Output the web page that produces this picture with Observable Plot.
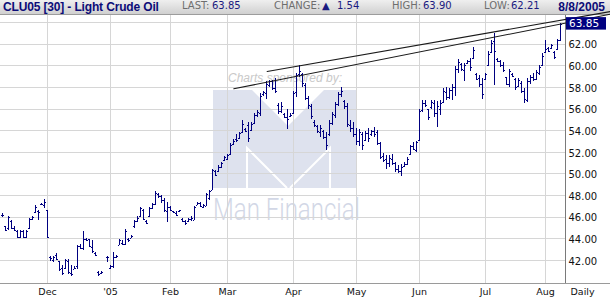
<!DOCTYPE html>
<html><head><meta charset="utf-8">
<script src="https://cdn.jsdelivr.net/npm/d3@7"></script>
<script src="https://cdn.jsdelivr.net/npm/@observablehq/plot@0.6"></script>
<style>
body{margin:0;background:#fff;}
#wrap{position:relative;width:610px;height:300px;overflow:hidden;background:#fff;}
#hdr{position:absolute;left:0;top:0;width:610px;height:15px;box-sizing:border-box;background:linear-gradient(#efefef,#d0d0d0);border-bottom:1px solid #9c9c9c;z-index:1;}
#hdr span{position:absolute;top:0;line-height:15px;white-space:nowrap;}
#hdr .t{font:bold 12px "Liberation Sans",Arial,sans-serif;letter-spacing:-0.15px;color:#0c0c78;}
#hdr .l{font:10px "DejaVu Sans",sans-serif;color:#6e6e6e;}
#hdr .v{font:10px "DejaVu Sans",sans-serif;color:#1a1a80;}
#hdr .d{font:bold 12px "Liberation Sans",Arial,sans-serif;color:#0c0c78;}
#wm{position:absolute;left:0;top:0;z-index:2;}
#chart{position:absolute;left:0;top:0;z-index:3;}
</style>
</head><body>
<div id="wrap">
  <div id="hdr"></div>
  <svg id="wm" width="610" height="300">
    <text x="228" y="82" font-family="Liberation Sans, Arial, sans-serif" font-style="italic" font-size="12" fill="#c9c9c9">Charts sponsored by:</text>
    <path d="M213,90 L252,90 L288,126 L324,90 L357,90 L357,188 L213,188 Z" fill="#dee2ee"/>
    <polyline points="247,188 247,148 287,188" fill="none" stroke="#fff" stroke-width="2"/>
    <polyline points="330,188 330,148 290,188" fill="none" stroke="#fff" stroke-width="2"/>
    <text x="213" y="220" font-family="Roboto, Liberation Sans, sans-serif" font-weight="300" font-size="32" textLength="147" lengthAdjust="spacingAndGlyphs" fill="#d2d7e6">Man Financial</text>
  </svg>
  <div id="chart"></div>
</div>
<script>
// ---- header values ----
const title = "CLU05 [30] - Light Crude Oil";
const lastPrice = 63.85, change = 1.54, dayHigh = 63.90, dayLow = 62.21;
const dateLabel = "8/8/2005";

// ---- x axis (trading-day slots) ----
const monthSlots  = [16, 37, 57, 76, 98, 119, 140, 162, 182];
const monthLabels = ["Dec", "'05", "Feb", "Mar", "Apr", "May", "Jun", "Jul", "Aug"];
const periodLabel = "Daily";

// ---- y axis ----
const gridPrices = [42, 44, 46, 48, 50, 52, 54, 56, 58, 60, 62, 64];
const priceLabels = [42, 44, 46, 48, 50, 52, 54, 56, 58, 60, 62];

// ---- daily OHLC, slot 1 .. 187 (null = no trading bar) ----
const firstSlot = 1;
const high = [
46.3,45.15,46.1,45.7,45.1,44.8,44.8,44.8,44.8,45.9,
46.05,47.05,46.6,47.3,47.6,46.65,42.4,42.4,42.6,41.95,
41.5,42.1,42.1,41.5,41.4,43.4,43.45,44.7,44.0,43.9,
43.8,42.7,41.0,41.0,null,42.4,41.5,42.7,42.45,43.9,
43.8,44.9,44.0,44.3,45.7,46.05,46.9,46.7,45.7,46.9,
47.3,48.35,48.2,48.0,47.7,47.4,46.96,46.53,46.53,46.65,
45.91,45.72,45.91,46.03,46.96,47.36,47.36,47.21,48.19,48.5,
50.45,50.35,50.76,51.06,51.59,51.8,52.8,53.2,53.6,53.85,
54.9,54.2,54.8,54.8,55.55,55.9,57.4,57.6,58.5,58.65,
58.6,58.8,56.5,56.6,55.6,56.0,55.6,57.6,59.3,60.0,
59.3,58.4,57.2,56.4,54.9,54.5,54.5,54.0,53.8,54.9,
55.7,56.6,57.55,58.0,56.8,56.5,54.9,54.8,54.2,54.1,
53.8,53.9,54.2,54.0,54.3,54.0,52.9,51.85,51.7,51.7,
51.8,51.1,50.8,50.9,51.1,51.5,52.6,52.9,53.0,56.0,
56.8,56.8,56.0,56.8,56.8,56.7,56.8,57.9,58.0,57.9,
58.3,59.9,60.6,60.2,60.2,60.5,60.65,61.7,59.3,59.1,
58.8,59.25,61.3,62.3,62.95,60.7,60.5,60.3,58.95,59.7,
59.3,58.8,58.8,58.5,57.9,58.8,59.1,59.25,59.6,60.0,
61.1,62.35,61.7,62.0,61.3,62.4,63.9];
const low = [
46.0,44.75,44.75,44.9,44.7,44.0,44.0,44.0,44.0,44.9,
45.7,46.3,45.7,47.05,46.8,44.05,41.95,41.8,42.0,41.0,
40.65,41.2,40.7,40.55,41.15,41.2,43.0,42.9,43.8,43.2,
42.6,42.4,40.55,40.7,null,41.8,41.2,41.3,42.2,43.35,
43.4,43.4,43.7,44.0,45.0,45.5,46.0,45.7,45.3,46.0,
46.7,47.05,47.7,47.3,46.4,45.5,46.53,46.34,46.13,46.43,
45.51,45.2,45.51,45.6,45.66,47.05,46.96,46.84,46.96,47.58,
48.44,49.83,50.14,50.54,51.16,51.2,51.7,52.6,52.9,53.2,
53.7,53.8,52.9,53.9,54.6,55.2,55.3,57.2,56.9,58.0,
57.7,57.4,55.5,55.6,55.1,54.15,55.2,55.5,57.1,58.9,
58.0,56.8,56.0,55.0,54.3,53.7,53.4,53.2,52.2,53.5,
54.5,55.1,56.2,57.1,56.0,54.3,53.8,53.4,52.6,52.5,
52.2,53.0,52.9,53.5,53.4,52.6,51.3,51.05,50.45,50.6,
50.8,50.1,50.0,49.8,50.6,50.8,51.7,52.15,52.0,53.0,
55.7,56.1,54.9,56.0,55.2,54.3,55.4,56.5,56.8,56.9,
56.8,57.2,59.3,59.5,58.5,60.1,59.5,60.6,58.6,58.0,
56.9,58.6,59.9,61.1,58.2,60.3,59.85,59.4,58.2,58.0,
58.9,57.7,58.0,57.4,56.5,56.6,58.3,58.5,58.6,59.1,
59.9,61.1,61.2,61.5,60.6,61.4,62.21];
const open = [
46.2,45.1,45.0,45.6,45.0,44.7,44.1,44.7,44.1,45.0,
45.8,46.4,46.5,47.2,47.1,46.6,42.3,42.0,42.5,41.9,
41.3,41.3,41.9,40.8,41.2,41.4,43.3,43.1,43.9,43.9,
43.2,42.6,40.9,40.8,null,42.3,41.3,41.4,42.3,43.4,
43.6,43.5,43.9,44.0,45.1,45.6,46.1,46.6,45.6,46.1,
46.8,47.2,48.1,47.9,47.5,46.5,46.9,46.5,46.3,46.5,
45.8,45.6,45.6,45.8,45.7,47.1,47.3,46.9,47.0,47.7,
48.5,50.2,50.2,50.6,51.2,51.3,51.8,52.7,53.2,53.3,
53.8,54.1,54.5,54.0,54.7,55.4,55.6,57.3,57.4,58.2,
58.5,57.9,56.3,55.8,55.5,55.2,55.3,55.6,57.5,59.2,
59.2,58.2,57.0,56.2,54.8,54.4,53.8,53.9,53.4,53.6,
54.7,55.4,56.4,57.3,56.7,56.2,54.5,54.2,53.6,53.0,
53.6,53.1,53.7,53.6,53.9,53.8,52.8,51.6,51.3,51.0,
51.3,51.0,50.4,50.2,50.7,50.9,51.8,52.5,52.2,53.1,
55.9,56.5,56.0,56.1,56.5,55.6,56.0,56.6,57.5,57.1,
57.7,58.0,59.7,60.1,59.6,60.2,60.4,60.7,59.2,58.8,
58.3,58.7,60.0,61.2,62.2,60.6,60.4,60.0,58.9,58.3,
59.2,58.7,58.1,58.4,57.6,56.8,58.5,58.9,58.7,59.3,
60.0,61.2,61.6,61.6,61.2,61.5,62.3];
const close = [
46.15,44.8,46.0,45.0,44.8,44.1,44.7,44.1,44.7,45.8,
46.0,46.9,46.4,47.2,47.4,44.1,42.2,42.3,42.1,41.2,
40.8,42.0,40.9,40.7,41.3,43.3,43.1,43.9,43.85,43.3,
42.8,42.5,40.7,40.9,null,42.3,41.4,42.3,42.4,43.8,
43.5,44.7,43.8,44.2,45.6,45.9,46.8,45.8,45.4,46.8,
47.2,48.2,47.9,47.5,46.6,46.9,46.6,46.4,46.2,46.6,
45.6,45.4,45.8,45.9,46.9,47.3,47.0,47.1,48.1,48.4,
50.3,49.9,50.6,51.0,51.5,51.7,52.6,53.0,53.1,53.7,
54.6,53.9,53.3,54.6,55.4,55.7,57.2,57.5,58.3,58.5,
57.9,57.6,55.8,56.2,55.2,55.0,55.4,57.4,59.1,59.5,
58.4,57.0,56.3,55.3,54.5,53.9,54.2,53.4,52.6,54.7,
55.5,56.4,57.3,57.6,56.2,54.6,54.2,53.6,53.0,53.8,
52.6,53.7,53.3,53.9,53.6,52.8,51.5,51.2,51.0,51.4,
51.0,50.4,50.2,50.6,50.9,51.3,52.5,52.3,52.9,55.8,
56.5,56.3,55.2,56.6,55.6,56.2,56.5,57.6,57.1,57.7,
58.0,59.7,60.3,59.7,60.0,60.4,59.8,61.4,58.7,58.3,
57.3,59.2,61.0,62.1,61.3,60.4,60.0,59.6,58.3,59.5,
59.0,58.0,58.6,57.6,56.9,58.5,58.9,58.7,59.4,59.8,
60.9,61.5,61.3,61.9,60.8,62.31,63.85];

// ---- trend lines (slot, price) ----
const trendUpperSlots = [89.2, 204.3], trendUpperPrices = [59.47, 65.04];
const trendLowerSlots = [78.1, 204.3], trendLowerPrices = [57.87, 64.81];

// ---- build ----
const navy = "#000080";
const bars = high.map((h, i) => ({slot: firstSlot + i, high: h, low: low[i], open: open[i], close: close[i]}))
  .filter(d => d.high != null);
const months = monthSlots.map((s, i) => ({slot: s, label: monthLabels[i]}));
const trendUpper = trendUpperSlots.map((s, i) => ({slot: s, price: trendUpperPrices[i]}));
const trendLower = trendLowerSlots.map((s, i) => ({slot: s, price: trendLowerPrices[i]}));

const xMin = 1 / 3, xMax = 566 / 3, xEdge = 611 / 3;
const yMin = 39.87, yMax = 64;

const chart = Plot.plot({
  width: 610, height: 300,
  marginTop: 15, marginRight: 45, marginBottom: 17, marginLeft: 0,
  x: {type: "linear", domain: [xMin, xMax], range: [0, 565], axis: null},
  y: {type: "linear", domain: [yMin, yMax], range: [283, 22], axis: null},
  style: {background: "transparent", overflow: "visible", fontFamily: "DejaVu Sans, sans-serif", fontSize: "10px", color: "#111"},
  marks: [
    Plot.ruleY(gridPrices, {stroke: "#d6d6d6", shapeRendering: "crispEdges"}),
    Plot.ruleX(months, {x: "slot", stroke: "#d6d6d6", shapeRendering: "crispEdges"}),
    Plot.ruleX([xMax], {stroke: "#7a7a7a", shapeRendering: "crispEdges"}),
    Plot.ruleY([yMin], {x1: xMin, x2: xEdge, stroke: "#9a9a9a", shapeRendering: "crispEdges"}),
    Plot.ruleX(bars, {x: "slot", y1: "low", y2: "high", stroke: navy, shapeRendering: "crispEdges"}),
    Plot.ruleY(bars, {y: "open", x1: d => d.slot - 0.5, x2: "slot", stroke: navy, shapeRendering: "crispEdges"}),
    Plot.ruleY(bars, {y: "close", x1: "slot", x2: d => d.slot + 0.5, stroke: navy, shapeRendering: "crispEdges"}),
    Plot.line(trendUpper, {x: "slot", y: "price", stroke: "#1a1a1a", strokeWidth: 1.1}),
    Plot.line(trendLower, {x: "slot", y: "price", stroke: "#1a1a1a", strokeWidth: 1.1}),
    Plot.text(priceLabels, {x: xMax, y: d => d, text: d => d.toFixed(2), textAnchor: "start", dx: 3, dy: 1, fill: "#111", fontSize: 10}),
    Plot.text(months, {x: "slot", frameAnchor: "bottom", dy: 11, text: "label", fill: "#111", fontSize: 9.5}),
    Plot.text([periodLabel], {frameAnchor: "bottom-right", dx: 5, dy: 11, text: d => d, textAnchor: "start", fill: "#111", fontSize: 9.5})
  ]
});
document.getElementById("chart").appendChild(chart);

// last-price box on the right axis (drawn on top)
const svg = d3.select(chart);
const cy = chart.scale("y").apply(lastPrice);
const box = svg.append("g");
box.append("rect").attr("x", 566).attr("y", cy - 6.5).attr("width", 40).attr("height", 12.5).attr("fill", navy);
box.append("text").attr("x", 569).attr("y", cy + 3.8).attr("fill", "#ffffff")
  .attr("text-anchor", "start").attr("font-weight", "normal")
  .style("font", "10.5px 'DejaVu Sans', sans-serif").text(lastPrice.toFixed(2));

// header
const hdr = d3.select("#hdr");
const put = (cls, left, txt, right) => {
  const s = hdr.append("span").attr("class", cls).text(txt);
  if (right != null) s.style("right", right + "px"); else s.style("left", left + "px");
};
put("t", 3, title);
put("l", 182, "LAST:");
put("v", 212, lastPrice.toFixed(2));
put("l", 274, "CHANGE:");
put("v", 322, (change >= 0 ? "\u25B2" : "\u25BC"));
put("v", 337, change.toFixed(2));
put("l", 392, "HIGH:");
put("v", 423, dayHigh.toFixed(2));
put("l", 484, "LOW:");
put("v", 511, dayLow.toFixed(2));
put("d", null, dateLabel, 5);
</script>
</body></html>
